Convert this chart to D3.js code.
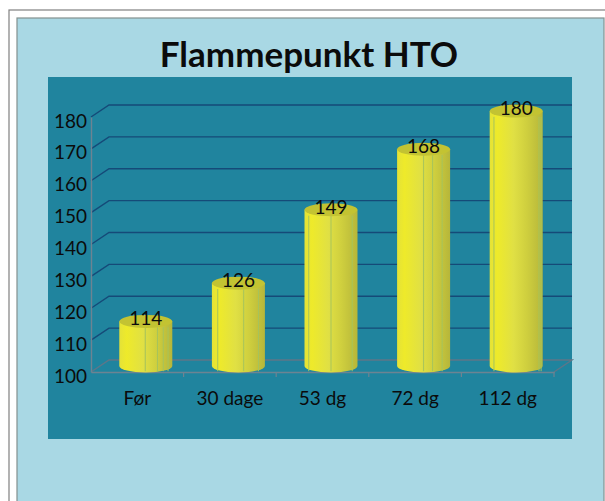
<!DOCTYPE html>
<html>
<head>
<meta charset="utf-8">
<script src="https://d3js.org/d3.v7.min.js"></script>
<style>
  html, body { margin: 0; padding: 0; background: #fff; overflow: hidden; }
  text { font-family: Lato, sans-serif; fill: #0b0b0b; }
</style>
</head>
<body>
<svg id="chart"></svg>
<script>
const categories = ["Før", "30 dage", "53 dg", "72 dg", "112 dg"];
const values = [114, 126, 149, 168, 180];
const yTicks = [100, 110, 120, 130, 140, 150, 160, 170, 180];
const title = "Flammepunkt HTO";

const width = 605;
const height = 501;
const plot = { left: 91, right: 554, top: 117, bottom: 372 };
const depth = { x: 18, y: -12 };
const rx = 26.5;
const ry = 6.5;

// thin lines between the cylinder's facets, as a share of its width
const facetLines = [
  [0.49, 0.72, 0.83, 0.92],
  [0.11, 0.6, 0.88],
  [0.08, 0.5, 0.9],
  [0.5, 0.67, 0.85],
  [0.08, 0.93, 0.97]
];

const svg = d3.select("#chart")
  .attr("width", width)
  .attr("height", height)
  .style("display", "block");

const gradient = svg.append("defs").append("linearGradient")
  .attr("id", "cylinder")
  .attr("x1", 0).attr("x2", 1).attr("y1", 0).attr("y2", 0);

[[0, "#e4e238"], [0.14, "#eeea2a"], [0.45, "#e0e044"], [0.7, "#cfcf3e"], [1, "#b6b63a"]]
  .forEach(([offset, color]) => {
    gradient.append("stop").attr("offset", offset).attr("stop-color", color);
  });

// frames and backgrounds
svg.append("rect")
  .attr("x", 9).attr("y", 10)
  .attr("width", 640).attr("height", 560)
  .attr("fill", "#fff").attr("stroke", "#808080").attr("stroke-width", 1.2);

svg.append("rect")
  .attr("x", 17).attr("y", 18)
  .attr("width", 587).attr("height", 560)
  .attr("fill", "#a9d8e4").attr("stroke", "#84918f").attr("stroke-width", 1.2);

svg.append("rect")
  .attr("x", 48).attr("y", 77)
  .attr("width", 524).attr("height", 362)
  .attr("fill", "#20849e");

svg.append("text")
  .attr("x", 309).attr("y", 67)
  .attr("text-anchor", "middle")
  .style("font-size", "35px")
  .style("font-weight", "bold")
  .text(title);

const xScale = d3.scaleBand()
  .domain(categories)
  .range([plot.left, plot.right]);

const yScale = d3.scaleLinear()
  .domain([100, 180])
  .range([plot.bottom, plot.top]);

// grid: up the side wall, then along the back wall
svg.selectAll(".grid")
  .data(yTicks.slice(1))
  .enter()
  .append("path")
  .attr("class", "grid")
  .attr("fill", "none")
  .attr("stroke", "#154a78")
  .attr("stroke-width", 1.4)
  .attr("d", d => d3.line()([
    [plot.left, yScale(d)],
    [plot.left + depth.x, yScale(d) + depth.y],
    [plot.right + depth.x, yScale(d) + depth.y]
  ]));

// floor
svg.append("path")
  .attr("fill", "none")
  .attr("stroke", "#5f7688")
  .attr("stroke-width", 1.4)
  .attr("d", d3.line()([
    [plot.left, yScale(100)],
    [plot.left + depth.x, yScale(100) + depth.y],
    [plot.right + depth.x, yScale(100) + depth.y],
    [plot.right, yScale(100)]
  ]));

// axes
const yAxis = d3.axisLeft(yScale)
  .tickValues(yTicks)
  .tickSize(0)
  .tickPadding(4);

const xAxis = d3.axisBottom(xScale)
  .tickSize(0)
  .tickPadding(20);

const yAxisGroup = svg.append("g")
  .attr("transform", `translate(${plot.left}, 0)`)
  .call(yAxis);

const xAxisGroup = svg.append("g")
  .attr("transform", `translate(0, ${plot.bottom})`)
  .call(xAxis);

svg.selectAll(".domain")
  .attr("stroke", "#6d8392")
  .attr("stroke-width", 1.4);

yAxisGroup.selectAll("text").style("font-size", "19px").attr("dy", "0.53em");
xAxisGroup.selectAll("text").style("font-size", "19px").attr("dy", "0.71em");
svg.selectAll(".tick line").remove();

svg.selectAll(".edge-tick")
  .data(categories)
  .enter()
  .append("line")
  .attr("class", "edge-tick")
  .attr("x1", d => xScale(d) + xScale.bandwidth())
  .attr("x2", d => xScale(d) + xScale.bandwidth())
  .attr("y1", plot.bottom)
  .attr("y2", plot.bottom + 5)
  .attr("stroke", "#6d8392")
  .attr("stroke-width", 1.2);

// cylinders
const barX = d => xScale(d) + xScale.bandwidth() / 2 + depth.x / 2 - 0.5;
const barY = v => yScale(v) + depth.y / 2;
const barBase = barY(100);

const bars = svg.selectAll(".bar")
  .data(categories.map((category, i) => ({ category, value: values[i], lines: facetLines[i] })))
  .enter()
  .append("g")
  .attr("class", "bar");

bars.append("path")
  .attr("fill", "url(#cylinder)")
  .attr("d", d => {
    const cx = barX(d.category);
    const top = barY(d.value);
    return `M${cx - rx},${top}V${barBase}A${rx},${ry} 0 0 0 ${cx + rx},${barBase}V${top}Z`;
  });

bars.selectAll(".facet")
  .data(d => d.lines.map(share => ({ share, category: d.category, value: d.value })))
  .enter()
  .append("line")
  .attr("class", "facet")
  .attr("x1", d => barX(d.category) - rx + d.share * 2 * rx)
  .attr("x2", d => barX(d.category) - rx + d.share * 2 * rx)
  .attr("y1", d => barY(d.value) + ry * 0.9)
  .attr("y2", barBase + ry * 0.8)
  .attr("stroke", "#a6c45c")
  .attr("stroke-width", 1);

bars.append("ellipse")
  .attr("cx", d => barX(d.category))
  .attr("cy", d => barY(d.value))
  .attr("rx", rx)
  .attr("ry", ry)
  .attr("fill", "#c3c332");

bars.append("text")
  .attr("x", d => barX(d.category))
  .attr("y", d => barY(d.value) + 4)
  .attr("text-anchor", "middle")
  .style("font-size", "19px")
  .text(d => d.value);
</script>
</body>
</html>
